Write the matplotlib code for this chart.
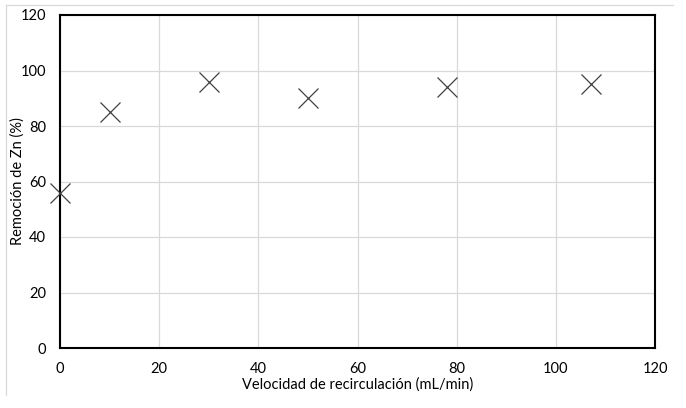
import matplotlib
matplotlib.use("Agg")
import matplotlib.pyplot as plt
from matplotlib.lines import Line2D

# datos
velocidad = [0, 10, 30, 50, 78, 107]
remocion = [56, 85, 96, 90, 94, 95]
xticks = [0, 20, 40, 60, 80, 100, 120]
yticks = [0, 20, 40, 60, 80, 100, 120]

plt.rcParams["font.family"] = ["Lato", "DejaVu Sans"]

fig = plt.figure(figsize=(6.86, 4.08), dpi=100)
ax = fig.add_axes([60 / 686, 1 - 348 / 408, 595 / 686, 333 / 408])

ax.plot(velocidad, remocion, linestyle="none", marker="x", markersize=14,
        markeredgewidth=0.9, color="#404040", clip_on=False, zorder=3)

ax.set_xlim(0, 120)
ax.set_ylim(0, 120)
ax.set_xticks(xticks)
ax.set_yticks(yticks)
ax.grid(True, color="#d9d9d9", linewidth=0.9)
ax.set_axisbelow(True)
ax.tick_params(length=0, labelsize=10.5, colors="#000000")
ax.tick_params(axis="x", pad=10)
ax.tick_params(axis="y", pad=10)
for s in ax.spines.values():
    s.set_linewidth(1.5)
    s.set_color("black")

ax.set_xlabel("Velocidad de recirculación (mL/min)", fontsize=10.5)
ax.set_ylabel("Remoción de Zn (%)", fontsize=10.5)
ax.xaxis.set_label_coords(0.5, -(385 - 348) / 333, transform=ax.transAxes)
ax.xaxis.label.set_va("center")
ax.yaxis.set_label_coords(-(60 - 18) / 595, 0.5, transform=ax.transAxes)
ax.yaxis.label.set_va("center")

# marco exterior del gráfico
fig.add_artist(Line2D([6 / 686, 673 / 686], [1 - 5 / 408, 1 - 5 / 408],
                      color="#d9d9d9", linewidth=0.9))
fig.add_artist(Line2D([6 / 686, 6 / 686], [1 - 5 / 408, 1 - 395 / 408],
                      color="#d9d9d9", linewidth=0.9))

fig.savefig("out.png", dpi=100)
